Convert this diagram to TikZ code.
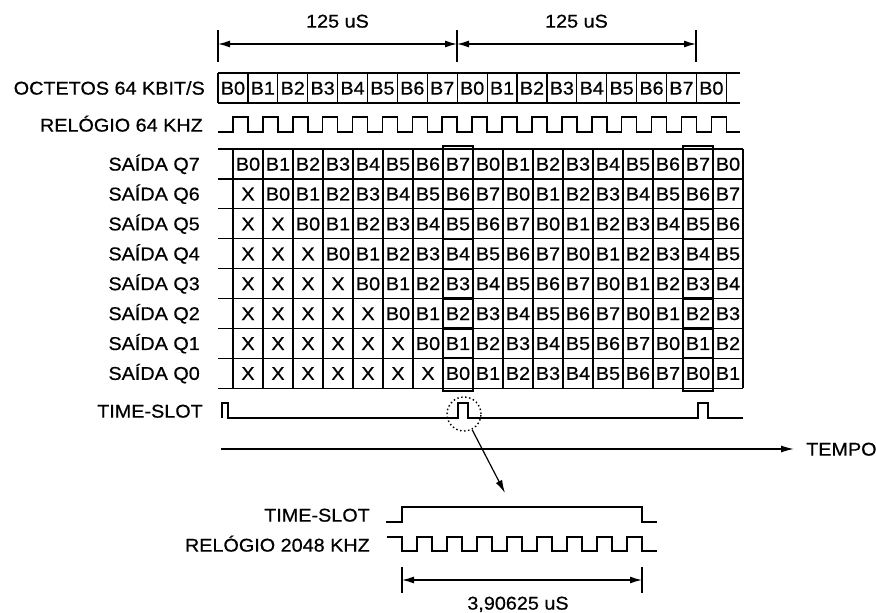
\documentclass[tikz,border=0pt]{standalone}
\usepackage{fontspec}
\setmainfont{Liberation Sans}[FakeStretch=1.07,FakeBold=0.6]
\usetikzlibrary{arrows.meta,positioning,calc}

\begin{document}
\begin{tikzpicture}[x=1pt,y=-1pt,
    txt/.style={inner sep=0pt,text height=13.2pt,text depth=0pt,
                font=\fontsize{18.5}{20}\selectfont},
    lbl/.style={txt,anchor=east},
    grid/.style={line width=1.2pt},
    bold/.style={line width=2.6pt},
    sig/.style={line width=1.6pt,line join=miter},
    dim/.style={line width=1.3pt,
                {Latex[length=12pt,width=7pt]}-{Latex[length=12pt,width=7pt]}}]
  \useasboundingbox (0,0) rectangle (876,613);
  \def\w{29.9}
  % 125 uS frames
  \coordinate (t0) at (218,44);
  \coordinate (t1) at (457,44);
  \coordinate (t2) at (696,44);
  \foreach \t in {t0,t1,t2}
    \draw[line width=1.2pt] ($(\t)+(0,-14)$) -- ($(\t)+(0,18)$);
  \draw[dim] (t0) -- (t1) node[txt,midway,yshift=23pt] (f1) {125 uS};
  \draw[dim] (t1) -- (t2) node[txt,midway,yshift=23pt] (f2) {125 uS};
  % Octets
  \node[lbl] (octlbl) at (205,88) {OCTETOS 64 KBIT/S};
  \foreach \k in {0,...,16} {
    \pgfmathtruncatemacro\b{mod(\k,8)}
    \node[txt] (oct\k) at ({218+(\k+0.5)*\w},88) {B\b};
    \draw[grid] ({218+\k*\w},73) -- ({218+\k*\w},103);
  }
  \draw[grid] ({218+17*\w},73) -- ({218+17*\w},103);
  \draw[grid] (218,73) -- (740,73) (218,103) -- (740,103);
  % Clock 64 kHz
  \node[lbl] (clklbl) at (203,125) {RELÓGIO 64 KHZ};
  \draw[sig] (218,132)
    \foreach \k in {0,...,16} {
      -- ({218+(\k+0.5)*\w},132) -- ({218+(\k+0.5)*\w},117)
      -- ({218+(\k+1)*\w},117) -- ({218+(\k+1)*\w},132)
    } -- (740,132);
  % Outputs Q7..Q0
  \foreach \r in {0,...,7} {
    \pgfmathtruncatemacro\q{7-\r}
    \node[lbl] (q\q) at (200,{149+(\r+0.5)*29.9}) {SAÍDA Q\q};
    \foreach \c in {0,...,16} {
      \pgfmathtruncatemacro\v{mod(\c-\r+8,8)}
      \ifnum\c<\r
        \node[txt] (c\r-\c) at ({233+(\c+0.5)*30},{149+(\r+0.5)*29.9}) {X};
      \else
        \node[txt] (c\r-\c) at ({233+(\c+0.5)*30},{149+(\r+0.5)*29.9}) {B\v};
      \fi
    }
  }
  \foreach \r in {0,...,8}
    \draw[grid] (218,{149+\r*29.9}) -- (743,{149+\r*29.9});
  \foreach \c in {0,...,17}
    \draw[grid] ({233+\c*30},149) -- ({233+\c*30},388);
  % Bold columns
  \foreach \x in {443,683} {
    \draw[bold] (\x,146) rectangle ({\x+30},391);
    \foreach \r in {1,...,7}
      \draw[line width=2.2pt] (\x,{149+\r*29.9}) -- ({\x+30},{149+\r*29.9});
  }
  % Time-slot
  \node[lbl] (tslbl) at (203,411) {TIME-SLOT};
  \draw[sig] (222,418) -- (222,403) -- (228,403) -- (228,418)
    -- (458,418) -- (458,403) -- (468,403) -- (468,418)
    -- (698,418) -- (698,403) -- (708,403) -- (708,418) -- (743,418);
  \node[draw,circle,line width=1.4pt,dash pattern=on 1.5pt off 2.5pt,
        minimum size=34pt,inner sep=0pt] (zoomc) at (464,414) {};
  % Time axis
  \node[txt,anchor=west] (tempo) at (806,449) {TEMPO};
  \coordinate (tstart) at (221,449);
  \draw[line width=1.3pt,-{Latex[length=13pt,width=7pt]}]
    (tstart) -- ([xshift=-12pt]tempo.west);
  % Zoom arrow
  \coordinate (ztip) at (505,493);
  \draw[line width=1.2pt,-{Latex[length=13pt,width=7pt]}] (zoomc) -- (ztip);
  % Detail: time-slot and 2048 kHz clock
  \node[lbl] (tslbl2) at (370,515) {TIME-SLOT};
  \draw[sig] (386,522) -- (402,522) -- (402,507) -- (642,507) -- (642,522)
    -- (657,522);
  \node[lbl] (clklbl2) at (370,545) {RELÓGIO 2048 KHZ};
  \draw[sig] (387,537) -- (402,537) -- (402,551)
    \foreach \k in {0,...,7} {
      -- ({402+30*\k+15},551) -- ({402+30*\k+15},537)
      -- ({402+30*\k+30},537) -- ({402+30*\k+30},551)
    } -- (657,551);
  % 3,90625 uS
  \coordinate (d0) at (402,580);
  \coordinate (d1) at (642,580);
  \foreach \t in {d0,d1}
    \draw[line width=1.2pt] ($(\t)+(0,-13)$) -- ($(\t)+(0,13)$);
  \draw[dim] (d0) -- (d1);
  \node[txt] (dlbl) at (518,603) {3,90625 uS};
\end{tikzpicture}
\end{document}
